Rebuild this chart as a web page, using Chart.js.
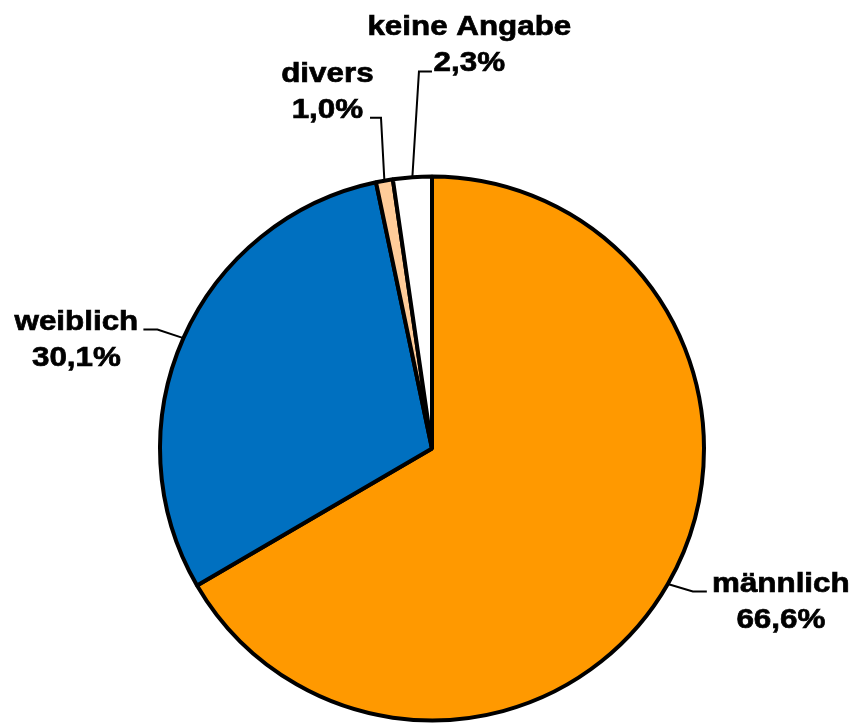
<!DOCTYPE html>
<html lang="de">
<head>
<meta charset="utf-8">
<title>Geschlecht</title>
<script src="https://cdn.jsdelivr.net/npm/chart.js@4/dist/chart.umd.min.js"></script>
<style>
    html, body { margin: 0; padding: 0; background: #fff; }
    #wrap { width: 853px; height: 723px; position: relative; }
</style>
</head>
<body>
<div id="wrap"><canvas id="genderChart"></canvas></div>
<script>
// chart data
const categories = ['männlich', 'weiblich', 'divers', 'keine Angabe'];
const shares = [66.6, 30.1, 1.0, 2.3];
const sliceColors = ['#FF9900', '#0070C0', '#FFCC99', '#FFFFFF'];

// where each label sits, relative to the point where its leader leaves the pie
const labelLayout = {
    'männlich':     { elbow: [25, 7.5],  end: [39, 7.5],    text: [113, 7.5, 43.5] },
    'weiblich':     { elbow: [-26, -8.6], end: [-40, -8.6], text: [-107, -8.6, 27.4] },
    'divers':       { elbow: [-3.4, -63], end: [-14.4, -63], text: [-57, -99, -63] },
    'keine Angabe': { elbow: [6.6, -105.7], end: [19.6, -105.7], text: [57, -142.7, -106.7] }
};

const leaderLabels = {
    id: 'leaderLabels',
    afterDatasetsDraw(chart) {
        const ctx = chart.ctx;
        const arcs = chart.getDatasetMeta(0).data;
        ctx.save();
        ctx.strokeStyle = '#000';
        ctx.fillStyle = '#000';
        ctx.font = 'bold 28px "Liberation Sans", Arial, sans-serif';
        ctx.textAlign = 'center';
        ctx.textBaseline = 'alphabetic';
        arcs.forEach(function (arc, i) {
            const p = arc.getProps(['x', 'y', 'startAngle', 'endAngle', 'outerRadius'], true);
            const mid = (p.startAngle + p.endAngle) / 2;
            const ex = p.x + Math.cos(mid) * p.outerRadius;
            const ey = p.y + Math.sin(mid) * p.outerRadius;
            const lay = labelLayout[categories[i]];

            ctx.lineWidth = 2;
            ctx.beginPath();
            ctx.moveTo(ex, ey);
            ctx.lineTo(ex + lay.elbow[0], ey + lay.elbow[1]);
            ctx.lineTo(ex + lay.end[0], ey + lay.end[1]);
            ctx.stroke();

            const lines = [categories[i], shares[i].toFixed(1).replace('.', ',') + '%'];
            ctx.lineWidth = 0.7;
            lines.forEach(function (txt, k) {
                ctx.save();
                ctx.translate(ex + lay.text[0], ey + lay.text[1 + k]);
                ctx.scale(1.12, 1);
                ctx.fillText(txt, 0, 0);
                ctx.strokeText(txt, 0, 0);
                ctx.restore();
            });
        });
        ctx.restore();
    }
};

document.addEventListener('DOMContentLoaded', function () {
    const chartCtx = document.getElementById('genderChart');

    new Chart(chartCtx, {
        type: 'pie',
        data: {
            labels: categories,
            datasets: [{
                data: shares,
                backgroundColor: sliceColors,
                borderColor: '#000000',
                borderWidth: 4
            }]
        },
        options: {
            responsive: true,
            maintainAspectRatio: false,
            animation: false,
            radius: 272,
            layout: {
                padding: { left: 11, right: 0, top: 174, bottom: 0 }
            },
            plugins: {
                legend: { display: false },
                tooltip: { enabled: false }
            }
        },
        plugins: [leaderLabels]
    });
});
</script>
</body>
</html>
